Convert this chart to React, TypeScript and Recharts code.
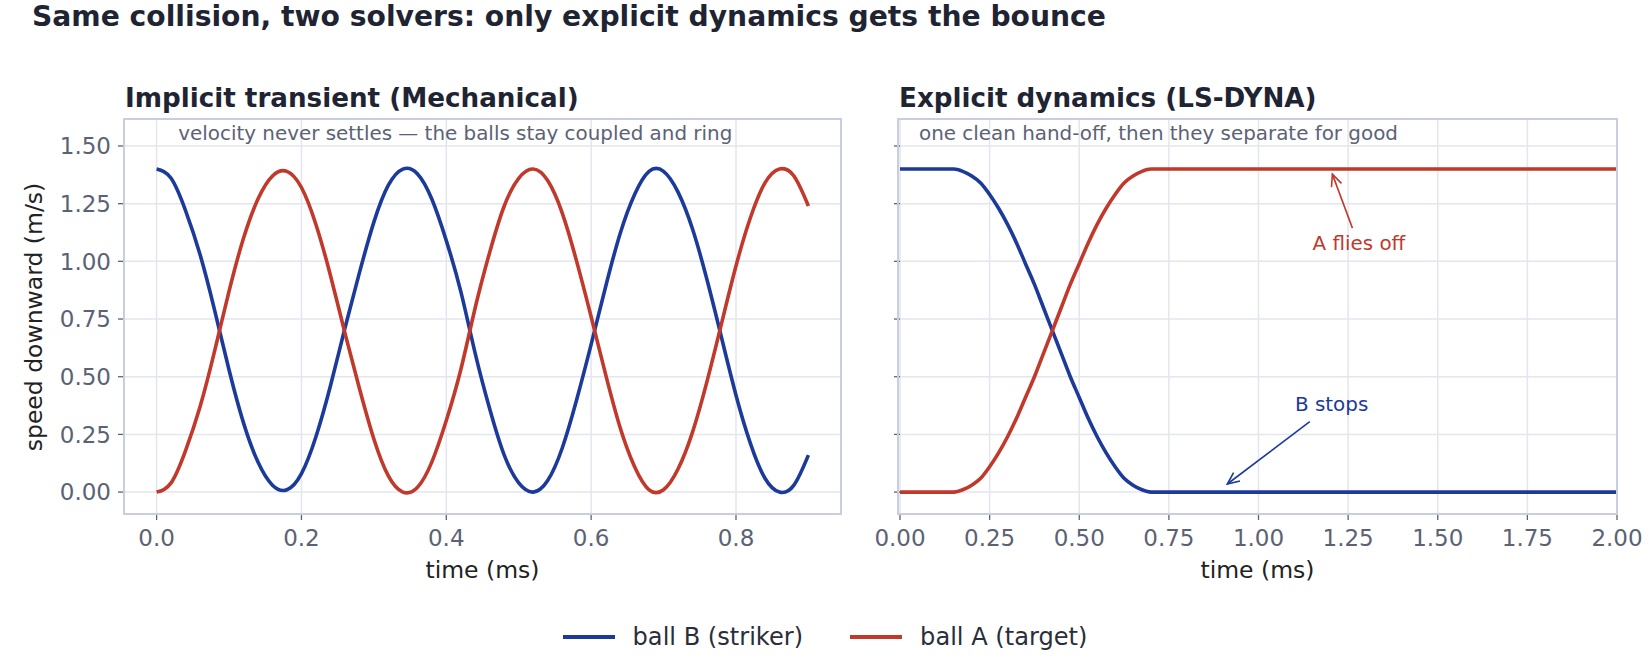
import { LineChart, Line, XAxis, YAxis, CartesianGrid, ReferenceDot, ReferenceLine } from "recharts";

const BLUE = "#1b3a9a";
const RED = "#c0392b";
const GRID = "#e4e6ef";
const BORDER = "#c9cedf";
const TICK = "#5b6276";
const INK = "#1f2433";
const FONT = "'DejaVu Sans', sans-serif";

// implicit transient (Mechanical), time in ms
const implicitTime = [
  0, 0.02, 0.04, 0.06, 0.08, 0.1, 0.12, 0.14, 0.16, 0.18, 0.2, 0.22, 0.24, 0.26, 0.28, 0.3,
  0.32, 0.34, 0.36, 0.38, 0.4, 0.42, 0.44, 0.46, 0.48, 0.5, 0.52, 0.54, 0.56, 0.58, 0.6,
  0.62, 0.64, 0.66, 0.68, 0.7, 0.72, 0.74, 0.76, 0.78, 0.8, 0.82, 0.84, 0.86, 0.88, 0.9,
];
const implicitB = [
  1.4, 1.36, 1.22, 1.03, 0.79, 0.53, 0.3, 0.13, 0.03, 0.01, 0.08, 0.24, 0.46, 0.71, 0.95, 1.17,
  1.33, 1.4, 1.38, 1.27, 1.09, 0.87, 0.6, 0.36, 0.16, 0.04, 0.0, 0.05, 0.19, 0.4, 0.64,
  0.89, 1.12, 1.29, 1.39, 1.39, 1.3, 1.14, 0.92, 0.67, 0.42, 0.21, 0.06, 0.0, 0.03, 0.16,
];
const implicitA = [
  0.0, 0.04, 0.18, 0.37, 0.61, 0.87, 1.1, 1.27, 1.37, 1.39, 1.32, 1.16, 0.94, 0.69, 0.45, 0.23,
  0.07, 0.0, 0.02, 0.13, 0.31, 0.53, 0.8, 1.04, 1.24, 1.36, 1.4, 1.35, 1.21, 1.0, 0.76,
  0.51, 0.28, 0.11, 0.01, 0.01, 0.1, 0.26, 0.48, 0.73, 0.98, 1.19, 1.34, 1.4, 1.37, 1.24,
];

// explicit dynamics (LS-DYNA)
const explicitTime = [
  0, 0.05, 0.1, 0.15, 0.175, 0.2, 0.225, 0.25, 0.275, 0.3, 0.325, 0.35, 0.375, 0.4, 0.425,
  0.45, 0.475, 0.5, 0.525, 0.55, 0.575, 0.6, 0.625, 0.65, 0.675, 0.7, 0.75, 1.0, 1.25, 1.5, 1.75, 2.0,
];
const explicitB = [
  1.4, 1.4, 1.4, 1.4, 1.39, 1.37, 1.34, 1.29, 1.23, 1.16, 1.08, 0.99, 0.9, 0.8, 0.7,
  0.6, 0.5, 0.41, 0.32, 0.24, 0.17, 0.11, 0.06, 0.03, 0.01, 0.0, 0.0, 0.0, 0.0, 0.0, 0.0, 0.0,
];
const explicitA = [
  0.0, 0.0, 0.0, 0.0, 0.01, 0.03, 0.06, 0.11, 0.17, 0.24, 0.32, 0.41, 0.5, 0.6, 0.7,
  0.8, 0.9, 0.99, 1.08, 1.16, 1.23, 1.29, 1.34, 1.37, 1.39, 1.4, 1.4, 1.4, 1.4, 1.4, 1.4, 1.4,
];

const yTicks = [0, 0.25, 0.5, 0.75, 1.0, 1.25, 1.5];
const implicitTicks = [0, 0.2, 0.4, 0.6, 0.8];
const explicitTicks = [0, 0.25, 0.5, 0.75, 1.0, 1.25, 1.5, 1.75, 2.0];

const series = [
  { key: "b", name: "ball B (striker)", color: BLUE },
  { key: "a", name: "ball A (target)", color: RED },
];

const implicitData = implicitTime.map((t, i) => ({ t, b: implicitB[i], a: implicitA[i] }));
const explicitData = explicitTime.map((t, i) => ({ t, b: explicitB[i], a: explicitA[i] }));

const Note = ({ text, color, anchor, size }: any) => (p: any) => (
  <text x={p.cx} y={p.cy} fill={color} fontSize={size} fontFamily={FONT}
    textAnchor={anchor} dominantBaseline="central">{text}</text>
);

const Arrow = (color: string) => (p: any) => {
  const { x1, y1, x2, y2 } = p;
  const ang = Math.atan2(y2 - y1, x2 - x1);
  const len = 13;
  const spread = 0.42;
  const ax = x2 - len * Math.cos(ang - spread);
  const ay = y2 - len * Math.sin(ang - spread);
  const bx = x2 - len * Math.cos(ang + spread);
  const by = y2 - len * Math.sin(ang + spread);
  return (
    <g>
      <line x1={x1} y1={y1} x2={x2} y2={y2} stroke={color} strokeWidth={1.6} />
      <polyline points={`${ax},${ay} ${x2},${y2} ${bx},${by}`} fill="none" stroke={color} strokeWidth={1.6} />
    </g>
  );
};

const tickStyle = { fill: TICK, fontSize: 23, fontFamily: FONT };

function Panel({ data, xDomain, xTicks, xFmt, width, margin, yLabels, curve, children }: any) {
  return (
    <LineChart width={width} height={600} data={data} margin={margin}>
      <CartesianGrid stroke={GRID} strokeWidth={1.5} />
      <XAxis dataKey="t" type="number" domain={xDomain} ticks={xTicks} allowDataOverflow
        tickFormatter={xFmt} tick={tickStyle} axisLine={false} tickLine={{ stroke: TICK, strokeWidth: 1.3 }}
        tickSize={6} tickMargin={10} height={30} interval={0} />
      <YAxis type="number" domain={[-0.095, 1.617]} ticks={yTicks} allowDataOverflow
        tickFormatter={yLabels ? (v: number) => v.toFixed(2) : () => ""} tick={tickStyle}
        axisLine={false} tickLine={{ stroke: TICK, strokeWidth: 1.3 }} tickSize={6} tickMargin={7}
        width={60} interval={0} />
      {series.map((s) => (
        <Line key={s.key} dataKey={s.key} name={s.name} type={curve} stroke={s.color}
          strokeWidth={3.6} dot={false} isAnimationActive={false} />
      ))}
      {children}
    </LineChart>
  );
}

const abs = (l: number, t: number, extra: any = {}) => ({ position: "absolute" as const, left: l, top: t, ...extra });

export default function App() {
  return (
    <div style={{ position: "absolute", left: 0, top: 0, width: 1650, height: 660, background: "#fff", fontFamily: FONT, overflow: "hidden" }}>
      <div style={abs(32, 3, { fontSize: 28.2, fontWeight: "bold", color: INK, lineHeight: 1, whiteSpace: "nowrap" })}>
        Same collision, two solvers: only explicit dynamics gets the bounce
      </div>
      <div style={abs(125, 84.5, { fontSize: 26.2, fontWeight: "bold", color: INK, lineHeight: 1, whiteSpace: "nowrap" })}>
        Implicit transient (Mechanical)
      </div>
      <div style={abs(899, 84.5, { fontSize: 26.2, fontWeight: "bold", color: INK, lineHeight: 1, whiteSpace: "nowrap" })}>
        Explicit dynamics (LS-DYNA)
      </div>

      <div style={abs(0, 0)}>
        <Panel data={implicitData} xDomain={[-0.045, 0.945]} xTicks={implicitTicks} curve="natural"
          xFmt={(v: number) => v.toFixed(1)} width={860}
          margin={{ top: 119, right: 19, bottom: 56, left: 64 }} yLabels>
          <ReferenceDot x={0.03} y={1.556} r={0}
            shape={Note({ text: "velocity never settles \u2014 the balls stay coupled and ring", color: TICK, anchor: "start", size: 19.9 })} />
        </Panel>
      </div>
      <div style={abs(840, 0)}>
        <Panel data={explicitData} xDomain={[0, 2]} xTicks={explicitTicks} curve="monotone"
          xFmt={(v: number) => v.toFixed(2)} width={830}
          margin={{ top: 119, right: 53, bottom: 56, left: 0 }} yLabels={false}>
          <ReferenceDot x={0.053} y={1.556} r={0}
            shape={Note({ text: "one clean hand-off, then they separate for good", color: TICK, anchor: "start", size: 19.9 })} />
          <ReferenceLine segment={[{ x: 1.262, y: 1.144 }, { x: 1.206, y: 1.378 }]} shape={Arrow(RED)} />
          <ReferenceDot x={1.28} y={1.079} r={0}
            shape={Note({ text: "A flies off", color: RED, anchor: "middle", size: 19.9 })} />
          <ReferenceLine segment={[{ x: 1.143, y: 0.305 }, { x: 0.913, y: 0.035 }]} shape={Arrow(BLUE)} />
          <ReferenceDot x={1.204} y={0.381} r={0}
            shape={Note({ text: "B stops", color: BLUE, anchor: "middle", size: 19.9 })} />
        </Panel>
      </div>

      <div style={abs(123, 118, { width: 719, height: 397, border: `2px solid ${BORDER}`, boxSizing: "border-box", pointerEvents: "none" })} />
      <div style={abs(897, 118, { width: 721, height: 397, border: `2px solid ${BORDER}`, boxSizing: "border-box", pointerEvents: "none" })} />

      <div style={abs(35, 316.5, { fontSize: 23.5, color: "#222", lineHeight: 1, whiteSpace: "nowrap", transform: "translate(-50%, -50%) rotate(-90deg)" })}>
        speed downward (m/s)
      </div>
      <div style={abs(482.5, 559, { fontSize: 23.5, color: "#222", lineHeight: 1, whiteSpace: "nowrap", transform: "translateX(-50%)" })}>
        time (ms)
      </div>
      <div style={abs(1257.5, 559, { fontSize: 23.5, color: "#222", lineHeight: 1, whiteSpace: "nowrap", transform: "translateX(-50%)" })}>
        time (ms)
      </div>

      <div style={abs(0, 622, { width: 1650, display: "flex", justifyContent: "center", gap: 47, fontSize: 24.1, color: "#2a2e3a", lineHeight: "30px" })}>
        {series.map((s) => (
          <div key={s.key} style={{ display: "flex", alignItems: "center", gap: 18 }}>
            <span style={{ display: "inline-block", width: 52, height: 4, background: s.color }} />
            <span style={{ whiteSpace: "nowrap" }}>{s.name}</span>
          </div>
        ))}
      </div>
    </div>
  );
}
